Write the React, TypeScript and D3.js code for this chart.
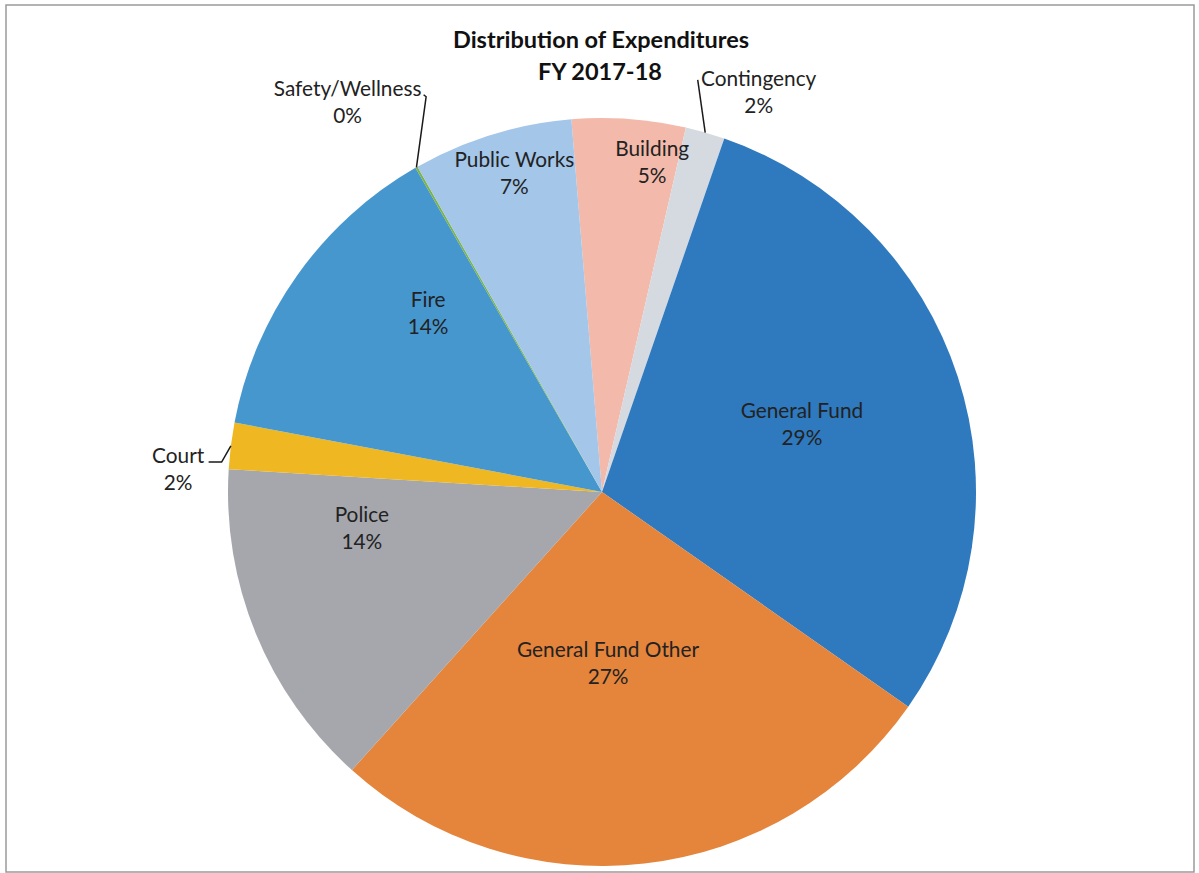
import React from "react";
import * as d3 from "d3";

const categories = [
  "Building",
  "Contingency",
  "General Fund",
  "General Fund Other",
  "Police",
  "Court",
  "Fire",
  "Safety/Wellness",
  "Public Works",
];
const values = [4.9, 1.7, 29.4, 26.9, 14.3, 2.0, 13.7, 0.1, 6.9];
const colors = [
  "#f3b9aa",
  "#d5dae1",
  "#2f79be",
  "#e5843b",
  "#a5a7ad",
  "#efb822",
  "#4797cf",
  "#7bb44a",
  "#a3c6e9",
];
const titleLines = ["Distribution of Expenditures", "FY 2017-18"];

// label layout: polar position (deg clockwise from top, fraction of radius)
const labelAngles = [8.5, 21.1, 69.7, 177.9, 262.9, 273.9, 316.8, 327.3, 344.9];
const labelRadii = [0.908, 1.164, 0.57, 0.441, 0.647, 1.136, 0.679, 1.259, 0.9];
// leader lines (offsets from label anchor) for outside labels
const leaderOffsets: Record<string, [number, number][]> = {
  Contingency: [[-61, -6]],
  Court: [
    [43.5, -1],
    [30.5, -1],
  ],
  "Safety/Wellness": [
    [78.5, 1],
    [76, -1],
  ],
};

const W = 1199;
const H = 873;
const cx = 602;
const cy = 492;
const R = 374;
const startDeg = -4.7;
const FONT = "Lato, 'Open Sans', sans-serif";

export default function App() {
  const total = d3.sum(values);
  const pie = d3
    .pie<number>()
    .sort(null)
    .value((d) => d)
    .startAngle((startDeg * Math.PI) / 180)
    .endAngle((startDeg * Math.PI) / 180 + 2 * Math.PI);
  const arcs = pie(values);
  const arcGen = d3.arc<d3.PieArcDatum<number>>().innerRadius(0).outerRadius(R);
  const polar = (deg: number, r: number): [number, number] => {
    const a = (deg * Math.PI) / 180;
    return [cx + r * Math.sin(a), cy - r * Math.cos(a)];
  };
  const line = d3.line();

  return (
    <svg
      width={W}
      height={H}
      style={{ position: "absolute", left: 0, top: 0, background: "#fff" }}
    >
      <rect x={6} y={5} width={1188} height={867} fill="#fff" stroke="#9a9a9a" strokeWidth={1.5} />
      <g transform={`translate(${cx},${cy})`}>
        {arcs.map((a, i) => (
          <path key={categories[i]} d={arcGen(a) || ""} fill={colors[i]} />
        ))}
      </g>
      {arcs.map((a, i) => {
        const name = categories[i];
        const offs = leaderOffsets[name];
        if (!offs) return null;
        const mid = ((a.startAngle + a.endAngle) / 2) * (180 / Math.PI);
        const rim = polar(mid, R);
        const [lx, ly] = polar(labelAngles[i], labelRadii[i] * R);
        const pts: [number, number][] = [rim, ...offs.map(([dx, dy]) => [lx + dx, ly + dy] as [number, number])];
        return (
          <path key={"l" + name} d={line(pts) || ""} fill="none" stroke="#1a1a1a" strokeWidth={1.5} />
        );
      })}
      {arcs.map((a, i) => {
        const [lx, ly] = polar(labelAngles[i], labelRadii[i] * R);
        const pct = Math.round((values[i] / total) * 100) + "%";
        return (
          <text
            key={"t" + categories[i]}
            x={lx}
            y={ly}
            textAnchor="middle"
            fontFamily={FONT}
            fontSize={20.8}
            fill="#222"
          >
            <tspan x={lx}>{categories[i]}</tspan>
            <tspan x={lx} dy={27}>
              {pct}
            </tspan>
          </text>
        );
      })}
      <text x={601} y={48} textAnchor="middle" fontFamily={FONT} fontWeight="bold" fontSize={23.5} fill="#111">
        {titleLines[0]}
      </text>
      <text x={600} y={80} textAnchor="middle" fontFamily={FONT} fontWeight="bold" fontSize={23.5} fill="#111">
        {titleLines[1]}
      </text>
    </svg>
  );
}
